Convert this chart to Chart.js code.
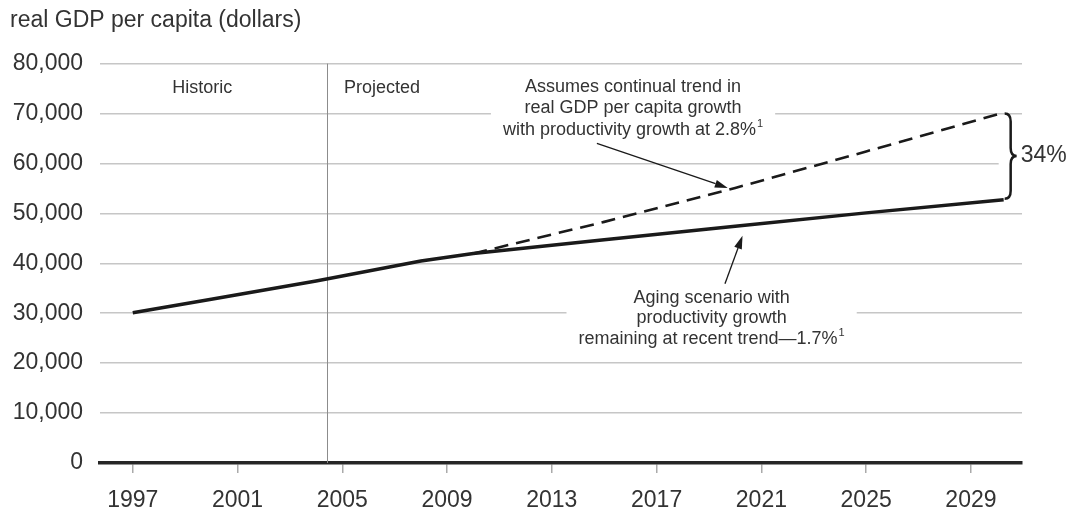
<!DOCTYPE html>
<html>
<head>
<meta charset="utf-8">
<script src="https://cdn.jsdelivr.net/npm/chart.js@4.4.1/dist/chart.umd.min.js"></script>
<style>
    html, body { margin: 0; padding: 0; background: #fff; }
    #wrap { width: 1075px; height: 514px; }
</style>
</head>
<body>
<div id="wrap"><canvas id="gdpChart"></canvas></div>
<script>
// Values
const agingYears = [1997, 2000, 2004, 2008, 2010, 2015, 2020, 2025, 2030.25];
const agingGdp = [30100, 32800, 36450, 40450, 41950, 44700, 47400, 50100, 52750];
const trendYears = [2010, 2015, 2020, 2025, 2030.25];
const trendGdp = [41950, 48300, 55100, 62400, 70200];
const yearTicks = [1997, 2001, 2005, 2009, 2013, 2017, 2021, 2025, 2029];
const dividerYear = 2004.4;
const gapLabel = '34%';

const FONT = '"Liberation Sans", Arial, sans-serif';
const TEXT_COLOR = '#333';

// Notes: anchor in data units (center of first line), lines stacked below
const notes = [
    { lines: [{ text: 'Historic' }], x: 1999.65, y: 75200, gap: 0 },
    { lines: [{ text: 'Projected' }], x: 2006.52, y: 75200, gap: 0 },
    {
        lines: [
            { text: 'Assumes continual trend in' },
            { text: 'real GDP per capita growth' },
            { text: 'with productivity growth at 2.8%', sup: '1' }
        ],
        x: 2016.1, y: 75400, gap: 21.7, box: true
    },
    {
        lines: [
            { text: 'Aging scenario with' },
            { text: 'productivity growth' },
            { text: 'remaining at recent trend\u20141.7%', sup: '1' }
        ],
        x: 2019.1, y: 33100, gap: 20.7, box: true
    }
];

const arrows = [
    { from: [2014.72, 64000], to: [2019.72, 55100] },
    { from: [2019.61, 35900], to: [2020.28, 45500] }
];

function lineWidthOf(ctx, line) {
    ctx.font = '18px ' + FONT;
    let w = ctx.measureText(line.text).width;
    if (line.sup) {
        ctx.font = '11px ' + FONT;
        w += ctx.measureText(line.sup).width + 1;
    }
    return w;
}

function drawLine(ctx, line, cx, cy) {
    const total = lineWidthOf(ctx, line);
    const left = cx - total / 2;
    ctx.font = '18px ' + FONT;
    ctx.textAlign = 'left';
    ctx.textBaseline = 'middle';
    ctx.fillText(line.text, left, cy);
    if (line.sup) {
        const w = ctx.measureText(line.text).width;
        ctx.font = '11px ' + FONT;
        ctx.fillText(line.sup, left + w + 1, cy - 6);
    }
}

function drawArrow(ctx, x1, y1, x2, y2) {
    const ang = Math.atan2(y2 - y1, x2 - x1);
    const len = 13, half = 4;
    const bx = x2 - len * Math.cos(ang), by = y2 - len * Math.sin(ang);
    ctx.beginPath();
    ctx.moveTo(x1, y1);
    ctx.lineTo(bx, by);
    ctx.stroke();
    ctx.beginPath();
    ctx.moveTo(x2, y2);
    ctx.lineTo(bx + half * Math.sin(ang), by - half * Math.cos(ang));
    ctx.lineTo(bx - half * Math.sin(ang), by + half * Math.cos(ang));
    ctx.closePath();
    ctx.fill();
}

const notesPlugin = {
    id: 'gdpNotes',
    beforeDatasetsDraw: function(chart) {
        const ctx = chart.ctx;
        const area = chart.chartArea;
        const xs = chart.scales.x, ys = chart.scales.y;
        ctx.save();

        // white boxes so gridlines stop at the notes
        ctx.fillStyle = '#fff';
        notes.forEach(function(note) {
            if (!note.box) return;
            const cx = xs.getPixelForValue(note.x);
            const cy = ys.getPixelForValue(note.y);
            let maxW = 0;
            note.lines.forEach(function(l) { maxW = Math.max(maxW, lineWidthOf(ctx, l)); });
            const h = note.gap * (note.lines.length - 1) + 24;
            ctx.fillRect(cx - maxW / 2 - 12, cy - 12, maxW + 24, h);
        });

        // gap behind the brace
        const endX = xs.getPixelForValue(agingYears[agingYears.length - 1]);
        const topY = ys.getPixelForValue(trendGdp[trendGdp.length - 1]);
        const botY = ys.getPixelForValue(agingGdp[agingGdp.length - 1]);
        ctx.fillRect(endX - 5, topY + 8, area.right - endX + 8, botY - topY - 16);

        // historic / projected divider
        const dx = Math.round(xs.getPixelForValue(dividerYear)) + 0.5;
        ctx.strokeStyle = '#8c8c8c';
        ctx.lineWidth = 1;
        ctx.beginPath();
        ctx.moveTo(dx, area.top);
        ctx.lineTo(dx, area.bottom);
        ctx.stroke();
        ctx.restore();
    },
    afterDatasetsDraw: function(chart) {
        const ctx = chart.ctx;
        const xs = chart.scales.x, ys = chart.scales.y;
        ctx.save();
        ctx.fillStyle = TEXT_COLOR;
        notes.forEach(function(note) {
            const cx = xs.getPixelForValue(note.x);
            const cy = ys.getPixelForValue(note.y);
            note.lines.forEach(function(l, i) { drawLine(ctx, l, cx, cy + i * note.gap); });
        });

        ctx.strokeStyle = '#1a1a1a';
        ctx.fillStyle = '#1a1a1a';
        ctx.lineWidth = 1.3;
        arrows.forEach(function(a) {
            drawArrow(ctx,
                xs.getPixelForValue(a.from[0]), ys.getPixelForValue(a.from[1]),
                xs.getPixelForValue(a.to[0]), ys.getPixelForValue(a.to[1]));
        });

        // brace between the two scenario end points
        const endX = xs.getPixelForValue(agingYears[agingYears.length - 1]);
        const top = ys.getPixelForValue(trendGdp[trendGdp.length - 1]) + 1;
        const bottom = ys.getPixelForValue(agingGdp[agingGdp.length - 1]) - 1;
        const mid = (top + bottom) / 2;
        const bx = endX + 1, w = 12;
        ctx.lineWidth = 2.5;
        ctx.beginPath();
        ctx.moveTo(bx, top);
        ctx.quadraticCurveTo(bx + w / 2, top, bx + w / 2, top + 8);
        ctx.lineTo(bx + w / 2, mid - 8);
        ctx.quadraticCurveTo(bx + w / 2, mid, bx + w, mid);
        ctx.quadraticCurveTo(bx + w / 2, mid, bx + w / 2, mid + 8);
        ctx.lineTo(bx + w / 2, bottom - 8);
        ctx.quadraticCurveTo(bx + w / 2, bottom, bx, bottom);
        ctx.stroke();

        ctx.fillStyle = TEXT_COLOR;
        ctx.font = '23px ' + FONT;
        ctx.textAlign = 'left';
        ctx.textBaseline = 'middle';
        ctx.fillText(gapLabel, endX + 17, mid);
        ctx.restore();
    }
};

const ctx = document.getElementById('gdpChart').getContext('2d');
const gdpChart = new Chart(ctx, {
    type: 'line',
    data: {
        datasets: [
            {
                label: 'Aging scenario',
                data: agingYears.map((yr, i) => ({ x: yr, y: agingGdp[i] })),
                borderColor: '#1a1a1a',
                borderWidth: 3.5,
                pointRadius: 0,
                tension: 0
            },
            {
                label: 'Continual trend',
                data: trendYears.map((yr, i) => ({ x: yr, y: trendGdp[i] })),
                borderColor: '#1a1a1a',
                borderWidth: 2.6,
                borderDash: [14, 8],
                pointRadius: 0,
                tension: 0
            }
        ]
    },
    options: {
        responsive: true,
        maintainAspectRatio: false,
        animation: false,
        layout: { padding: { left: 10, right: 53, top: 0, bottom: 0 } },
        plugins: {
            legend: { display: false },
            tooltip: { enabled: false },
            title: {
                display: true,
                text: 'real GDP per capita (dollars)',
                align: 'start',
                color: TEXT_COLOR,
                font: { family: FONT, size: 23, weight: 'normal' },
                padding: { top: 7, bottom: 29 }
            }
        },
        scales: {
            x: {
                type: 'linear',
                min: 1995.75,
                max: 2030.95,
                afterBuildTicks: function(scale) {
                    scale.ticks = yearTicks.map(v => ({ value: v }));
                },
                afterFit: function(scale) { scale.height = 51; },
                ticks: {
                    autoSkip: false,
                    maxRotation: 0,
                    padding: 16,
                    color: TEXT_COLOR,
                    font: { family: FONT, size: 23, lineHeight: 1 },
                    callback: function(value) { return String(value); }
                },
                grid: {
                    drawOnChartArea: false,
                    drawTicks: true,
                    tickLength: 10,
                    color: '#aaa',
                    lineWidth: 1.5
                },
                border: { display: true, color: '#262626', width: 3.5 }
            },
            y: {
                min: 0,
                max: 80000,
                afterFit: function(scale) { scale.width = 90; },
                ticks: {
                    stepSize: 10000,
                    padding: 17,
                    color: TEXT_COLOR,
                    font: { family: FONT, size: 23 },
                    callback: function(value) { return value.toLocaleString('en-US'); }
                },
                grid: { color: '#c6c6c6', lineWidth: 1.5, drawTicks: false },
                border: { display: false }
            }
        }
    },
    plugins: [notesPlugin]
});
</script>
</body>
</html>
